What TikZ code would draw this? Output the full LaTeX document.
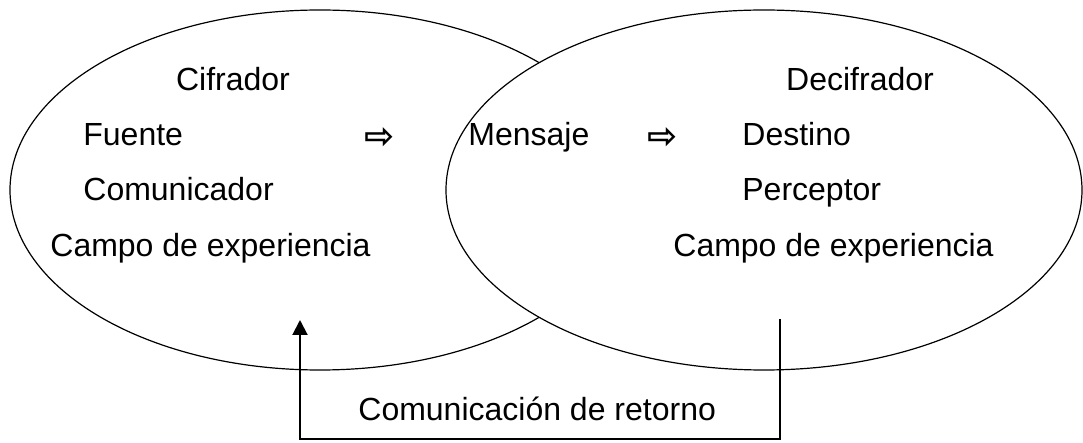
\documentclass[tikz,border=0pt]{standalone}
\usepackage{fontspec}
\setmainfont{Liberation Sans}
\newfontfamily\djv{DejaVu Sans}
\usetikzlibrary{shapes.geometric,arrows.meta}
\tikzset{
  lbl/.style={anchor=base west,inner sep=0pt,font=\fontsize{16}{19}\selectfont},
  clbl/.style={anchor=base,inner sep=0pt,font=\fontsize{16}{19}\selectfont},
  harrow/.style={anchor=center,inner sep=0pt,font=\djv\bfseries\fontsize{18}{20}\selectfont},
  field/.style={draw,ellipse,inner sep=0pt,line width=0.6pt},
  fb/.style={line width=1pt,-{Triangle[length=7.5pt,width=7.5pt]}}
}
\begin{document}
\begin{tikzpicture}[x=0.5pt,y=-0.5pt]
\useasboundingbox (0,0) rectangle (1083,443);
\node[field,minimum width=310pt,minimum height=180pt] (L) at (320,190) {};
\node[field,fill=white,minimum width=318pt,minimum height=180pt] (R) at (764,190) {};
\node[clbl] (cif) at (233,91) {Cifrador};
\node[lbl] (fue) at (83,146) {Fuente};
\node[harrow] (a1) at (380,138) {⇨};
\node[lbl] (com) at (83,201) {Comunicador};
\node[lbl] (ce1) at (50,257) {Campo de experiencia};
\node[clbl] (dec) at (860,91) {Decifrador};
\node[lbl] (men) at (468,146) {Mensaje};
\node[harrow] (a2) at (663,138) {⇨};
\node[lbl] (des) at (742,146) {Destino};
\node[lbl] (per) at (742,201) {Perceptor};
\node[lbl] (ce2) at (673,257) {Campo de experiencia};
\node[lbl] (ret) at (358,421) {Comunicación de retorno};
\coordinate (f1) at (780,319);
\coordinate (f2) at (780,439);
\coordinate (f3) at (300,439);
\coordinate (f4) at (300,320);
\draw[fb] (f1) -- (f2) -- (f3) -- (f4);
\end{tikzpicture}
\end{document}
